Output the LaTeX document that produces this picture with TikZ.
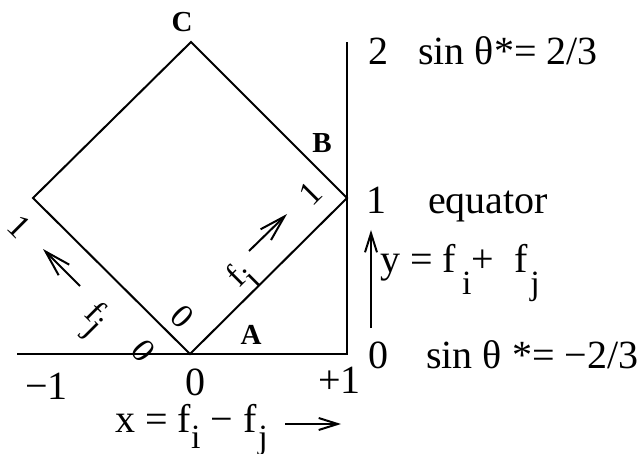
\documentclass[tikz,border=0pt]{standalone}
\usepackage{fontspec}
\setmainfont{Liberation Serif}
\usetikzlibrary{arrows.meta}
\newcommand{\sbs}[2][-16pt]{\raisebox{#1}{\fontsize{34}{34}\selectfont #2}}
\begin{document}
\begin{tikzpicture}[x=1pt,y=-1pt,
  ln/.style={line width=2pt},
  txt/.style={inner sep=0pt, anchor=base west, font=\fontsize{40}{48}\selectfont},
  lbl/.style={inner sep=0pt, font=\fontsize{29}{34}\selectfont\bfseries},
  rlbl/.style={inner sep=0pt, font=\fontsize{34}{40}\selectfont},
  bigbarb/.style={-{Straight Barb[length=26pt,width=15pt]}, line width=2pt},
  smallbarb/.style={-{Straight Barb[length=19pt,width=12pt]}, line width=2pt}
]
\useasboundingbox (0,0) rectangle (639,454);
% square and axes
\coordinate (O) at (190,354);
\coordinate (R) at (347,198);
\coordinate (T) at (191,42);
\coordinate (L) at (33,198);
\coordinate (Xs) at (17,354);
\coordinate (Xe) at (347,354);
\coordinate (Yt) at (347,42);
\draw[ln] (O) -- (R) -- (T) -- (L) -- cycle;
\draw[ln] (Xs) -- (Xe) -- (Yt);
% corner labels
\node[lbl] (C) at (182,22) {C};
\node[lbl] (B) at (322,143) {B};
\node[lbl] (A) at (251,335) {A};
% right side texts
\node[txt] (two) at (368,65) {2};
\node[txt] (s1) at (418,65) {sin θ*= 2/3};
\node[txt] (one) at (366,214) {1};
\node[txt] (eq) at (428,214) {equator};
\node[txt] (ylab) at (380,272) {y = f\hspace{6pt}\sbs[-22pt]{i}+\ \ f\hspace{3pt}\sbs[-22pt]{j}};
\node[txt] (zero) at (368,368) {0};
\node[txt] (s2) at (426,368) {sin θ *= −2/3};
% bottom texts
\node[txt] (m1) at (25,399) {−1};
\node[txt] (z0) at (185,395) {0};
\node[txt] (p1) at (318,393) {+1};
\node[txt] (xlab) at (115,432) {x = f\sbs{i} − f\hspace{2pt}\sbs{j}};
% rotated labels
\node[rlbl, rotate=-45] (lone) at (19,227) {1};
\node[rlbl, rotate=-45] (fj) at (93,321) {f\sbs[-12pt]{j}};
\node[rlbl, rotate=-45] (lzero) at (182,317) {0};
\node[rlbl, rotate=-50] (hzero) at (143,351) {0};
\node[rlbl, rotate=45] (rone) at (311,194) {1};
\node[rlbl, rotate=45] (fi) at (243,277) {f\sbs[-12pt]{i}};
% arrows
\coordinate (aj1) at (80,286);
\coordinate (aj2) at (43,249);
\coordinate (ai1) at (249,251);
\coordinate (ai2) at (287,214);
\coordinate (ay1) at (371,328);
\coordinate (ay2) at (371,230);
\coordinate (ax1) at (285,424);
\coordinate (ax2) at (341,424);
\draw[bigbarb] (aj1) -- (aj2);
\draw[bigbarb] (ai1) -- (ai2);
\draw[smallbarb] (ay1) -- (ay2);
\draw[smallbarb] (ax1) -- (ax2);
\end{tikzpicture}
\end{document}
